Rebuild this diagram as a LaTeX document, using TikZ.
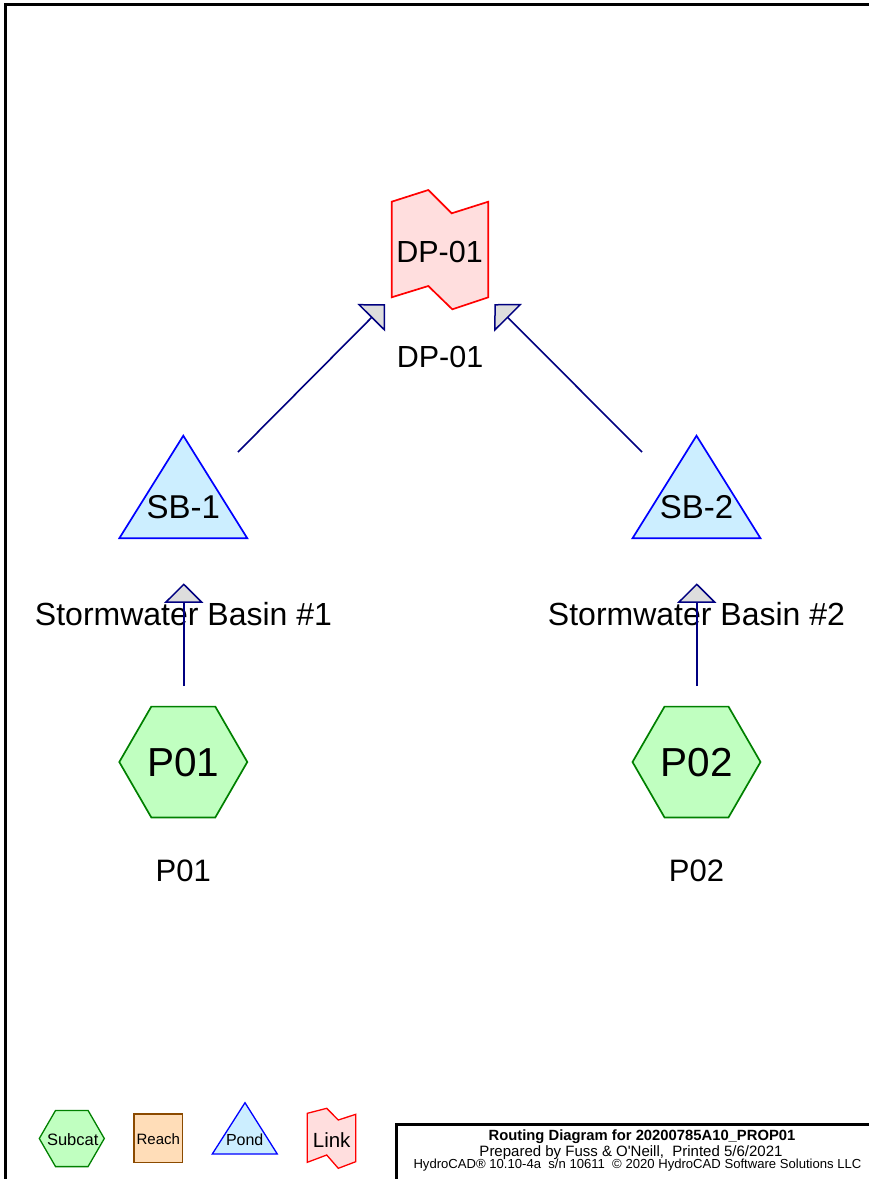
\documentclass[tikz,border=0pt]{standalone}
\usepackage{fontspec}
\setmainfont{Liberation Sans}
\usetikzlibrary{arrows.meta}
\definecolor{navy}{HTML}{000080}
\definecolor{subfill}{HTML}{C0FFC0}
\definecolor{subline}{HTML}{008000}
\definecolor{pondfill}{HTML}{CCEEFF}
\definecolor{pondline}{HTML}{0000FF}
\definecolor{linkfill}{HTML}{FFDEDE}
\definecolor{linkline}{HTML}{FF0000}
\definecolor{reachfill}{HTML}{FFDDB8}
\definecolor{reachline}{HTML}{8B4A00}
\definecolor{arrgray}{HTML}{DDDDDD}
\begin{document}
\begin{tikzpicture}[x=1pt,y=-1pt,
  subcat/.style={draw=subline,fill=subfill,line width=1.7pt,line join=miter},
  pond/.style={draw=pondline,fill=pondfill,line width=1.7pt,line join=miter},
  link/.style={draw=linkline,fill=linkfill,line width=1.7pt,line join=miter},
  reach/.style={draw=reachline,fill=reachfill,line width=1.3pt},
  flow/.style={draw=navy,line width=1.6pt,-{Triangle[width=39pt,length=19.5pt,fill=arrgray,line width=1.5pt]}},
  txt/.style={inner sep=0pt,font=\fontsize{#1}{#1}\selectfont},
  frame/.style={draw=black,line width=3pt}
]
\useasboundingbox (0,0) rectangle (869,1179);
% page frame
\draw[frame] (5.7,1200) -- (5.7,4) -- (900,4);
% title box
\draw[frame] (396.2,1200) -- (396.2,1124.5) -- (900,1124.5);

% DP-01 link
\draw[link] (391.7,201.7) -- (428.3,190) -- (451.7,213.3) -- (488.3,201.7) -- (488.3,297.3) -- (452.3,309.3) -- (428.3,286) -- (391.7,297.3) -- cycle;
\node[txt=30.5] (dpin) at (439.5,252) {DP-01};
\node[txt=30.5] (dplbl) at (440,357) {DP-01};

% SB-1 pond
\draw[pond] (183.3,435.7) -- (247.3,538.3) -- (119.3,538.3) -- cycle;
\node[txt=33] (sb1) at (183.3,507.5) {SB-1};
\node[txt=32] (sb1lbl) at (183.5,614.5) {Stormwater Basin \#1};

% SB-2 pond
\draw[pond] (696.5,435.7) -- (760.5,538.3) -- (632.5,538.3) -- cycle;
\node[txt=33] (sb2) at (696.5,507.5) {SB-2};
\node[txt=32] (sb2lbl) at (696.5,614.5) {Stormwater Basin \#2};

% P01 subcat
\draw[subcat,shift={(183.3,762)}] (-64,0) -- (-32,-55.4) -- (32,-55.4) -- (64,0) -- (32,55.4) -- (-32,55.4) -- cycle;
\node[txt=40.5] (p01) at (183.3,763) {P01};
\node[txt=31] (p01lbl) at (183.3,871) {P01};

% P02 subcat
\draw[subcat,shift={(696.5,762)}] (-64,0) -- (-32,-55.4) -- (32,-55.4) -- (64,0) -- (32,55.4) -- (-32,55.4) -- cycle;
\node[txt=40.5] (p02) at (696.5,763) {P02};
\node[txt=31] (p02lbl) at (696.5,871) {P02};

% connector ends
\coordinate (sb1out) at (238,452);
\coordinate (dptip1) at (385,304);
\coordinate (sb2out) at (642,452);
\coordinate (dptip2) at (494.3,304);
\coordinate (p01out) at (183.8,686);
\coordinate (sb1tip) at (183.8,583.3);
\coordinate (p02out) at (696.8,686);
\coordinate (sb2tip) at (696.8,583.3);

\draw[flow] (sb1out) -- (dptip1);
\draw[flow] (sb2out) -- (dptip2);
\draw[flow] (p01out) -- (sb1tip);
\draw[flow] (p02out) -- (sb2tip);

% legend
\draw[subcat,line width=1.3pt,shift={(71.8,1138.5)}] (-32.5,0) -- (-16.25,-28.1) -- (16.25,-28.1) -- (32.5,0) -- (16.25,28.1) -- (-16.25,28.1) -- cycle;
\node[txt=16.5] (lgsub) at (72.7,1140) {Subcat};
\draw[reach] (134,1114) rectangle (182.7,1162.3);
\node[txt=15] (lgreach) at (158.3,1139.5) {Reach};
\draw[pond,line width=1.3pt] (245,1102.7) -- (277.3,1154) -- (212.3,1154) -- cycle;
\node[txt=16] (lgpond) at (244.7,1139.5) {Pond};
\draw[link,line width=1.3pt] (307.3,1113.3) -- (326.7,1108.3) -- (338.3,1120) -- (355.7,1114.3) -- (355.7,1161.7) -- (338.3,1168.3) -- (326.7,1155) -- (307.3,1162.3) -- cycle;
\node[txt=20.5] (lglink) at (331.7,1140.5) {Link};

% title block text
\node[txt=14.8,anchor=base] (t1) at (642,1140) {\bfseries Routing Diagram for 20200785A10\_PROP01};
\node[txt=15,anchor=base] (t2) at (631,1156) {Prepared by Fuss \& O\textquotesingle Neill,\ \ Printed 5/6/2021};
\node[txt=13.1,anchor=base] (t3) at (637.5,1168.3) {HydroCAD® 10.10-4a\ \ s/n 10611\ \ © 2020 HydroCAD Software Solutions LLC};
\end{tikzpicture}
\end{document}
